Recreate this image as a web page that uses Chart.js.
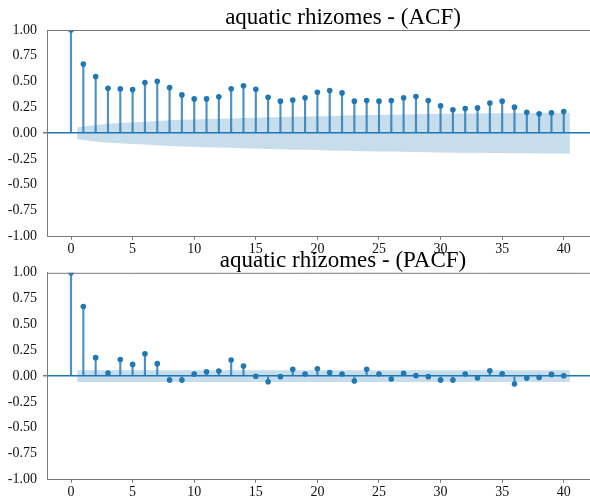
<!DOCTYPE html>
<html>
<head>
<meta charset="utf-8">
<script src="https://cdn.jsdelivr.net/npm/chart.js@4.4.1/dist/chart.umd.min.js"></script>
<style>
  html, body { margin: 0; padding: 0; background: #ffffff; overflow: hidden; }
  #wrap { position: relative; width: 590px; height: 499px; overflow: hidden; }
  canvas { position: absolute; left: 0; }
  .ttl { position: absolute; left: 343px; transform: translateX(-50%); white-space: nowrap;
         font-family: "Liberation Serif", "Times New Roman", serif; font-size: 23px; line-height: 23px; color: #000; z-index: 5; }
</style>
</head>
<body>
<div id="wrap">
  <canvas id="acfChart" width="590" height="258" style="top:0px;width:590px;height:258px;"></canvas>
  <canvas id="pacfChart" width="590" height="241" style="top:258px;width:590px;height:241px;"></canvas>
  <div class="ttl" id="t1" style="top:4.8px;"></div>
  <div class="ttl" id="t2" style="top:248.3px;"></div>
</div>
<script>
// ---- data ----
const acfTitle = "aquatic rhizomes - (ACF)";
const pacfTitle = "aquatic rhizomes - (PACF)";

const lags = [0,1,2,3,4,5,6,7,8,9,10,11,12,13,14,15,16,17,18,19,20,
              21,22,23,24,25,26,27,28,29,30,31,32,33,34,35,36,37,38,39,40];

const acfValues = [1.000,
  0.671, 0.548, 0.435, 0.429, 0.422, 0.490, 0.503, 0.441, 0.371, 0.332,
  0.332, 0.353, 0.430, 0.460, 0.426, 0.347, 0.310, 0.322, 0.342, 0.397,
  0.413, 0.390, 0.310, 0.316, 0.310, 0.316, 0.342, 0.355, 0.316, 0.264,
  0.226, 0.238, 0.245, 0.293, 0.310, 0.252, 0.203, 0.187, 0.197, 0.209];

// half-width of the confidence band for lags 1..40
const acfBand = [
  0.058, 0.080, 0.092, 0.098, 0.105, 0.110, 0.117, 0.124, 0.129, 0.133,
  0.136, 0.139, 0.142, 0.146, 0.150, 0.154, 0.157, 0.160, 0.162, 0.164,
  0.167, 0.171, 0.173, 0.175, 0.177, 0.179, 0.181, 0.183, 0.185, 0.188,
  0.189, 0.190, 0.191, 0.192, 0.193, 0.195, 0.196, 0.197, 0.197, 0.198];

const pacfValues = [1.000,
  0.674, 0.178, 0.029, 0.161, 0.113, 0.216, 0.120, -0.039, -0.039, 0.019,
  0.042, 0.048, 0.155, 0.097, -0.002, -0.055, -0.006, 0.065, 0.020, 0.071,
  0.035, 0.020, -0.048, 0.065, 0.020, -0.029, 0.026, 0.004, -0.006, -0.039,
  -0.039, 0.020, -0.019, 0.052, 0.023, -0.077, -0.020, -0.013, 0.016, 0.003];

const pacfBand = [
  0.057, 0.057, 0.057, 0.057, 0.057, 0.057, 0.057, 0.057, 0.057, 0.057,
  0.057, 0.057, 0.057, 0.057, 0.057, 0.057, 0.057, 0.057, 0.057, 0.057,
  0.057, 0.057, 0.057, 0.057, 0.057, 0.057, 0.057, 0.057, 0.057, 0.057,
  0.057, 0.057, 0.057, 0.057, 0.057, 0.057, 0.057, 0.057, 0.057, 0.057];

const yTicks = [-1.00, -0.75, -0.50, -0.25, 0.00, 0.25, 0.50, 0.75, 1.00];
const xTicks = [0, 5, 10, 15, 20, 25, 30, 35, 40];

// ---- styling ----
const C0 = "#1f77b4";
const SPINE = "#7a7a7a";
const FONT = "Liberation Serif";

document.getElementById('t1').textContent = acfTitle;
document.getElementById('t2').textContent = pacfTitle;

const topSpine = {
  id: 'topSpine',
  afterDraw(chart) {
    const a = chart.chartArea, c = chart.ctx;
    c.save();
    c.strokeStyle = SPINE; c.lineWidth = 1;
    c.beginPath(); c.moveTo(a.left, a.top + 0.5); c.lineTo(a.right, a.top + 0.5); c.stroke();
    c.restore();
  }
};

function makeChart(id, values, band, padTop, xHeight) {
  const pts = lags.map((l, i) => ({ x: l, y: values[i] }));
  const bandLags = lags.slice(1).map((l, i, a) => i === 0 ? l - 0.5 : (i === a.length - 1 ? l + 0.5 : l));
  const upper = bandLags.map((x, i) => ({ x: x, y: band[i] }));
  const lower = bandLags.map((x, i) => ({ x: x, y: -band[i] }));
  return new Chart(document.getElementById(id), {
    type: 'bar',
    data: {
      datasets: [
        { type: 'line', data: upper, borderWidth: 0, pointRadius: 0, fill: '+1',
          backgroundColor: 'rgba(31,119,180,0.25)', borderColor: 'rgba(0,0,0,0)', order: 3, tension: 0 },
        { type: 'line', data: lower, borderWidth: 0, pointRadius: 0, fill: false,
          backgroundColor: 'rgba(0,0,0,0)', borderColor: 'rgba(0,0,0,0)', order: 3, tension: 0 },
        { type: 'bar', data: pts, barThickness: 1.5, backgroundColor: 'rgba(31,119,180,0.8)',
          borderWidth: 0, order: 2, grouped: false },
        { type: 'scatter', data: pts, pointRadius: 2.8, pointBackgroundColor: C0,
          pointBorderWidth: 0, borderWidth: 0, order: 1, clip: 0 }
      ]
    },
    options: {
      responsive: false,
      animation: false,
      events: [],
      layout: { autoPadding: false, padding: { top: padTop, left: 0, right: 0, bottom: 0 } },
      plugins: { legend: { display: false }, tooltip: { enabled: false }, title: { display: false } },
      scales: {
        x: {
          type: 'linear', min: -1.95, max: 42.13, offset: false,
          afterBuildTicks: (s) => { s.ticks = xTicks.map(v => ({ value: v })); },
          afterFit: (s) => { s.height = xHeight; s.paddingRight = 0; s.paddingLeft = 0; },
          ticks: { font: { family: FONT, size: 14 }, color: '#111', padding: 1, maxRotation: 0 },
          grid: { drawOnChartArea: false, drawTicks: true, tickLength: 3.5, tickColor: SPINE, offset: false },
          border: { color: SPINE, width: 1 }
        },
        y: {
          min: -1, max: 1,
          afterBuildTicks: (s) => { s.ticks = yTicks.map(v => ({ value: v })); },
          afterFit: (s) => { s.width = 47; s.paddingTop = 0; s.paddingBottom = 0; },
          ticks: { font: { family: FONT, size: 14 }, color: '#111', padding: 6,
                   callback: (v) => Number(v).toFixed(2) },
          grid: {
            drawOnChartArea: true, drawTicks: true, tickLength: 4, tickColor: SPINE,
            color: (ctx) => (ctx.tick && ctx.tick.value === 0) ? C0 : 'rgba(0,0,0,0)',
            lineWidth: (ctx) => (ctx.tick && ctx.tick.value === 0) ? 1.5 : 0
          },
          border: { color: SPINE, width: 1 }
        }
      }
    },
    plugins: [topSpine]
  });
}

makeChart('acfChart', acfValues, acfBand, 30, 21.7);
makeChart('pacfChart', pacfValues, pacfBand, 14.8, 19.7);
</script>
</body>
</html>
